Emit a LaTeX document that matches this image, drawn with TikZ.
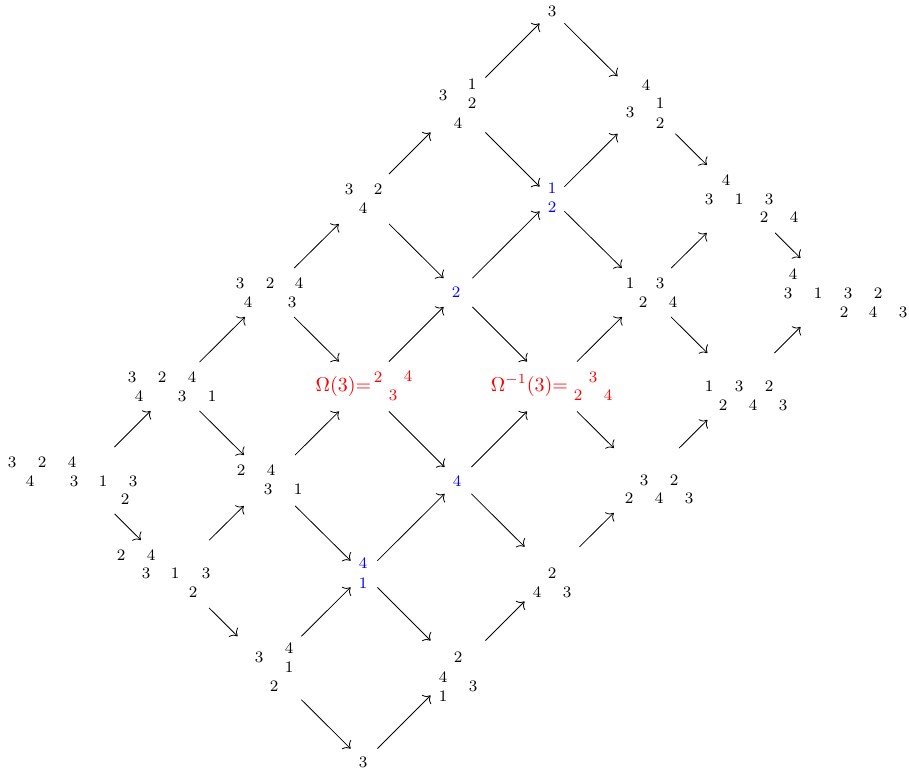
\documentclass[tikz,border=0pt]{standalone}
\usepackage{xcolor}
\usepackage{tikz}
\usetikzlibrary{arrows.meta}
\setlength{\unitlength}{0.5pt}
\newcommand{\dg}[3]{\put(#1,-#2){\makebox(0,0){#3}}}

\begin{document}
\begin{tikzpicture}[x=0.5pt, y=-0.5pt, font=\footnotesize,
    cell/.style={inner xsep=4pt, inner ysep=4.5pt},
    arr/.style={-{Computer Modern Rightarrow[scale=1.25]}, line width=0.4pt}]
  \useasboundingbox (0,0) rectangle (909,774);
  \node[cell] (n05) at (81,480.5) {\begin{picture}(146,48)(8,-504.5)
      \dg{12}{462}{3}\dg{42}{462}{2}\dg{72}{462}{4}
      \dg{30}{481}{4}\dg{74}{481}{3}\dg{103}{481}{1}\dg{133}{481}{3}
      \dg{125}{499}{2}\end{picture}};
  \node[cell] (n14) at (175,386.5) {\begin{picture}(94,30)(128,-401.5)
      \dg{132}{377}{3}\dg{162}{377}{2}\dg{192}{377}{4}
      \dg{139}{396}{4}\dg{182}{396}{3}\dg{212}{396}{1}\end{picture}};
  \node[cell] (n16) at (175,574) {\begin{picture}(116,49)(117,-598.5)
      \dg{121}{555}{2}\dg{151}{555}{4}
      \dg{146}{573}{3}\dg{175}{573}{1}\dg{206}{573}{3}
      \dg{193}{592}{2}\end{picture}};
  \node[cell] (n23) at (269.5,292.5) {\begin{picture}(67,30)(236,-307.5)
      \dg{240}{283}{3}\dg{270}{283}{2}\dg{299}{283}{4}
      \dg{248}{302}{4}\dg{292}{302}{3}\end{picture}};
  \node[cell] (n25) at (269.5,480.5) {\begin{picture}(65,32)(237,-496.5)
      \dg{241}{470}{2}\dg{271}{470}{4}
      \dg{268}{489}{3}\dg{298}{489}{1}\end{picture}};
  \node[cell] (n27) at (269.5,668) {\begin{picture}(47,51)(246,-693.5)
      \dg{259}{657}{3}\dg{289}{648}{4}\dg{289}{667}{1}
      \dg{274}{686}{2}\end{picture}};
  \node[cell] (n32) at (364,199) {\begin{picture}(38,31)(345,-214.5)
      \dg{349}{189}{3}\dg{378}{189}{2}
      \dg{363}{208}{4}\end{picture}};
  \node[cell, text=red] (n34) at (364,386.5) {\begin{picture}(98,31)(315,-402)
      \put(343.5,-391){\makebox[0pt]{\normalsize$\Omega(3){=}$}}
      \dg{378}{377}{2}\dg{393}{395}{3}\dg{408}{376}{4}\end{picture}};
  \node[cell, text=blue] (n36) at (364,574) {\begin{picture}(10,33)(359,-590.5)
      \dg{363}{563}{4}\dg{363}{583}{1}\end{picture}};
  \node[cell] (n38) at (364,762) {\begin{picture}(10,11)(359,-767.5)
      \dg{363}{762}{3}\end{picture}};
  \node[cell] (n41) at (458,105) {\begin{picture}(38,53)(439,-131.5)
      \dg{443}{95}{3}\dg{472}{84}{1}\dg{472}{103}{2}
      \dg{458}{123}{4}\end{picture}};
  \node[cell, text=blue] (n43) at (458,292.5) {\begin{picture}(12,12)(452,-298.5)
      \dg{456}{292}{2}\end{picture}};
  \node[cell, text=blue] (n45) at (458,480.5) {\begin{picture}(10,12)(453,-486.5)
      \dg{457}{481}{4}\end{picture}};
  \node[cell] (n47) at (458,668) {\begin{picture}(38,67)(439,-701.5)
      \dg{458}{657}{2}\dg{443}{677}{4}\dg{473}{686}{3}
      \dg{443}{696}{1}\end{picture}};
  \node[cell] (n50) at (552,11) {\begin{picture}(8,11)(548,-16.5)
      \dg{552}{11}{3}\end{picture}};
  \node[cell, text=blue] (n52) at (552,199) {\begin{picture}(8,33)(548,-215.5)
      \dg{552}{188}{1}\dg{552}{207}{2}\end{picture}};
  \node[cell, text=red] (n54) at (552,386.5) {\begin{picture}(122,31)(491,-402)
      \put(529.5,-391){\makebox[0pt]{\normalsize$\Omega^{-1}(3){=}$}}
      \dg{578}{395}{2}\dg{593}{377}{3}\dg{608}{395}{4}\end{picture}};
  \node[cell] (n56) at (552,574) {\begin{picture}(38,47)(533,-597.5)
      \dg{552}{573}{2}
      \dg{537}{592}{4}\dg{567}{592}{3}\end{picture}};
  \node[cell] (n61) at (646.5,105) {\begin{picture}(41,51)(626,-130.5)
      \dg{646}{85}{4}\dg{660}{103}{1}\dg{630}{112}{3}
      \dg{660}{123}{2}\end{picture}};
  \node[cell] (n63) at (646.5,292.5) {\begin{picture}(61,30)(616,-307.5)
      \dg{630}{283}{1}\dg{660}{283}{3}
      \dg{643}{302}{2}\dg{673}{302}{4}\end{picture}};
  \node[cell] (n65) at (646.5,480.5) {\begin{picture}(93,46)(600,-503.5)
      \dg{644}{480}{3}\dg{674}{480}{2}
      \dg{629}{498}{2}\dg{659}{498}{4}\dg{689}{498}{3}\end{picture}};
  \node[cell] (n72) at (741,199) {\begin{picture}(114,49)(684,-223.5)
      \dg{726}{180}{4}
      \dg{709}{199}{3}\dg{739}{199}{1}\dg{769}{199}{3}
      \dg{764}{217}{2}\dg{794}{217}{4}\end{picture}};
  \node[cell] (n74) at (741,386.5) {\begin{picture}(92,48)(695,-410.5)
      \dg{709}{386}{1}\dg{739}{386}{3}\dg{769}{386}{2}
      \dg{723}{405}{2}\dg{753}{405}{4}\dg{783}{405}{3}\end{picture}};
  \node[cell] (n83) at (835,292.5) {\begin{picture}(144,50)(763,-317.5)
      \dg{793}{274}{4}
      \dg{788}{293}{3}\dg{818}{293}{1}\dg{848}{293}{3}\dg{878}{293}{2}
      \dg{844}{312}{2}\dg{873}{312}{4}\dg{903}{312}{3}\end{picture}};
  \foreach \a/\b in {n05/n14, n05/n16, n14/n23, n14/n25, n16/n25, n16/n27,
      n23/n32, n23/n34, n25/n34, n25/n36, n27/n36, n27/n38,
      n32/n41, n32/n43, n34/n43, n34/n45, n36/n45, n36/n47, n38/n47,
      n41/n50, n41/n52, n43/n52, n43/n54, n45/n54, n45/n56, n47/n56,
      n50/n61, n52/n61, n52/n63, n54/n63, n54/n65, n56/n65,
      n61/n72, n63/n72, n63/n74, n65/n74, n72/n83, n74/n83}
    \draw[arr] (\a) -- (\b);
\end{tikzpicture}
\end{document}
